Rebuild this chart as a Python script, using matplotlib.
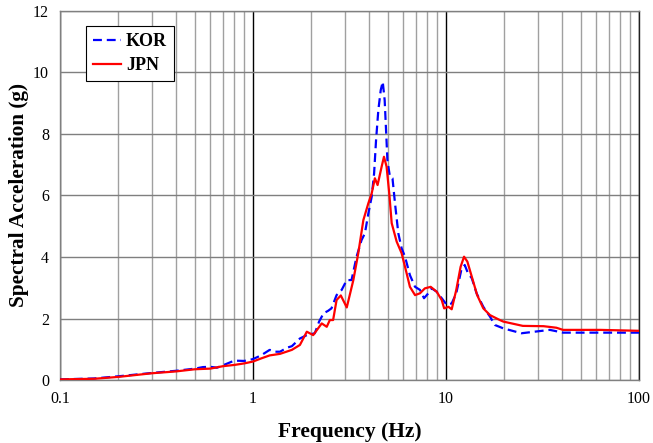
import matplotlib
matplotlib.use('Agg')
import matplotlib.pyplot as plt
from matplotlib.ticker import LogLocator, NullFormatter

plt.rcParams['font.family'] = ['Liberation Serif', 'DejaVu Serif']

# KOR spectrum (blue dashed)
kor_freq = [0.1, 0.15, 0.2, 0.25, 0.3, 0.4, 0.5, 0.55, 0.6, 0.65, 0.7, 0.8, 0.9,
            1.0, 1.1, 1.22, 1.3, 1.38, 1.5, 1.59, 1.75, 1.9, 2.09, 2.2, 2.32,
            2.45, 2.55, 2.71, 2.88, 3.06, 3.24, 3.44, 3.65, 3.8, 3.96, 4.12,
            4.24, 4.34, 4.46, 4.59, 4.7, 4.81, 4.88, 4.97, 5.12, 5.28, 5.44,
            5.66, 5.89, 6.13, 6.5, 6.91, 7.33, 7.69, 8.1, 8.43, 8.95, 9.5,
            10.1, 10.7, 11.3, 12.0, 12.5, 13.0, 13.6, 14.4, 15.6, 16.9, 17.9,
            19.8, 24.6, 34.5, 40.4, 63, 100]
kor_sa = [0.02, 0.05, 0.12, 0.18, 0.23, 0.3, 0.37, 0.42, 0.43, 0.4, 0.48, 0.63, 0.62,
          0.68, 0.8, 0.98, 0.92, 0.92, 1.05, 1.1, 1.35, 1.46, 1.52, 1.9, 2.17,
          2.25, 2.33, 2.76, 2.93, 3.25, 3.25, 4.01, 4.55, 4.77, 5.42, 5.96,
          6.72, 7.8, 8.78, 9.43, 9.7, 9.1, 8.24, 7.15, 6.61, 6.56, 5.75,
          4.77, 4.28, 4.01, 3.41, 3.03, 2.93, 2.66, 2.82, 2.98, 2.87, 2.66,
          2.44, 2.49, 2.82, 3.58, 3.74, 3.47, 3.31, 2.82, 2.38, 2.06, 1.79,
          1.68, 1.52, 1.63, 1.54, 1.54, 1.54]

# JPN spectrum (red solid)
jpn_freq = [0.1, 0.15, 0.2, 0.3, 0.4, 0.5, 0.6, 0.7, 0.8, 0.9, 1.0, 1.1, 1.22,
            1.38, 1.59, 1.75, 1.9, 2.05, 2.27, 2.41, 2.5, 2.6, 2.71, 2.85, 3.06,
            3.31, 3.51, 3.73, 3.96, 4.12, 4.28, 4.42, 4.64, 4.77, 4.92, 5.08,
            5.23, 5.55, 5.89, 6.25, 6.5, 6.91, 7.33, 7.77, 8.33, 8.95, 9.5,
            9.78, 10.3, 10.7, 11.3, 11.9, 12.4, 12.9, 13.6, 14.5, 15.6, 16.9,
            19.0, 19.8, 25, 32, 37.3, 40.4, 63, 100]
jpn_sa = [0.02, 0.04, 0.1, 0.22, 0.28, 0.35, 0.37, 0.45, 0.49, 0.54, 0.6, 0.7, 0.8,
          0.85, 0.98, 1.14, 1.57, 1.46, 1.84, 1.73, 1.95, 1.95, 2.6, 2.75, 2.36,
          3.25, 4.12, 5.2, 5.75, 6.07, 6.56, 6.34, 6.94, 7.26, 6.94, 6.07,
          5.1, 4.5, 4.12, 3.47, 3.03, 2.76, 2.82, 2.98, 3.03, 2.87, 2.6,
          2.33, 2.38, 2.3, 2.93, 3.68, 4.01, 3.85, 3.36, 2.76, 2.33, 2.11,
          1.95, 1.9, 1.76, 1.75, 1.70, 1.63, 1.63, 1.6]

fig = plt.figure(figsize=(6.53, 4.43), dpi=100)
ax = fig.add_axes([0.0919, 0.1422, 0.8867, 0.833])

ax.plot(kor_freq, kor_sa, color='#0000ff', lw=1.6, linestyle=(0, (4, 2.2)),
        label='KOR', zorder=3)
ax.plot(jpn_freq, jpn_sa, color='#ff0000', lw=1.6, label='JPN', zorder=4)

ax.set_xscale('log')
ax.set_xlim(0.1, 100)
ax.set_ylim(0, 12)
ax.set_yticks(range(0, 13, 2))
ax.set_xticks([0.1, 1, 10, 100])
ax.set_xticklabels(['0.1', '1', '10', '100'])
ax.xaxis.set_minor_locator(LogLocator(base=10, subs=range(2, 10)))
ax.xaxis.set_minor_formatter(NullFormatter())

ax.grid(True, which='minor', axis='x', color='#a0a0a0', lw=1.0)
ax.grid(True, which='major', axis='y', color='#7f7f7f', lw=1.0)
ax.grid(True, which='major', axis='x', color='#000000', lw=1.0)
ax.tick_params(which='both', length=0, labelsize=11.5, pad=8)
for s in ax.spines.values():
    s.set_color('#808080')
    s.set_linewidth(1.0)
ax.spines['right'].set_color('#202020')

ax.set_xlabel('Frequency (Hz)', fontsize=15.5, fontweight='bold', labelpad=11)
ax.set_ylabel('Spectral Acceleration (g)', fontsize=15.3, fontweight='bold', labelpad=3)

leg = ax.legend(loc='upper left', bbox_to_anchor=(0.036, 0.975),
                prop={'weight': 'bold', 'size': 13}, frameon=True, fancybox=False,
                edgecolor='black', framealpha=1, handlelength=1.55,
                borderpad=0.4, labelspacing=0.4, handletextpad=0.25,
                borderaxespad=0.3)
leg.get_frame().set_linewidth(0.8)

fig.savefig('out.png', dpi=100)
